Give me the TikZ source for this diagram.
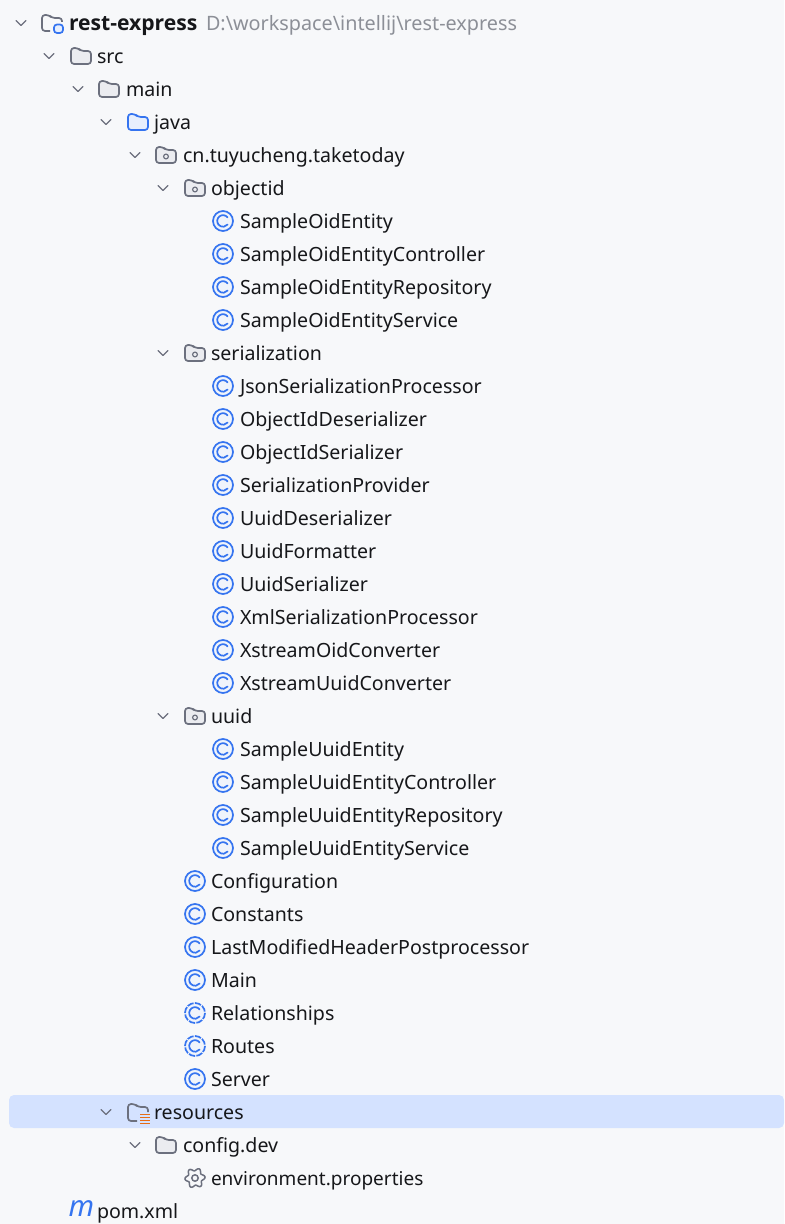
\documentclass[tikz,border=0pt]{standalone}
\usepackage{fontspec}
\setmainfont{Noto Sans}
\newfontfamily\rootfont{Open Sans}
\definecolor{bgc}{HTML}{F7F8FA}
\definecolor{selc}{HTML}{D4E2FF}
\definecolor{txt}{HTML}{16171A}
\definecolor{gry}{HTML}{8C8F97}
\definecolor{fold}{HTML}{6C707E}
\definecolor{foldf}{HTML}{EBECF0}
\definecolor{blu}{HTML}{3574F0}
\definecolor{bluf}{HTML}{E7EFFD}
\definecolor{org}{HTML}{E66D17}
\tikzset{
 x=0.5pt,y=-0.5pt,
 lbl/.style={anchor=base west,inner sep=0,outer sep=0,text=txt,font=\fontsize{9.8}{12}\selectfont},
 chev/.pic={\draw[fold,line width=0.65pt,line cap=round,line join=round] (-5,-2.5)--(0,2.5)--(5,-2.5);},
 foldershape/.pic={\draw[pic actions,line width=0.85pt,line join=round,rounded corners=1.5pt] (-10,-8)--(-3,-8)--(0,-5)--(10,-5)--(10,8)--(-10,8)--cycle;},
 cicon/.pic={\draw[blu,line width=0.85pt,fill=bluf!45!bgc] (0,0) circle (10);
   \draw[blu,line width=0.85pt,line cap=round] (4.6,-3.6) arc (-38:-322:5.8);},
 cdash/.pic={\draw[blu,line width=0.85pt,fill=bluf!45!bgc,dash pattern=on 3.2pt off 0.7pt] (0,0) circle (10);
   \draw[blu,line width=0.85pt,line cap=round] (4.6,-3.6) arc (-38:-322:5.8);},
}
\newcommand{\lab}[4]{\node[lbl] (#3) at (#2,{23+33*#1+7.6}) {#4};}
\newcommand{\chv}[2]{\pic at (#2,{23+33*#1}) {chev};}
\newcommand{\fld}[2]{\pic[draw=fold,fill=foldf] at (#2,{23+33*#1}) {foldershape};}
\newcommand{\pkg}[2]{\pic[draw=fold,fill=foldf] at (#2,{23+33*#1}) {foldershape};
  \draw[fold,line width=0.6pt] (#2,{23+33*#1+1.5}) circle (2.4);}
\newcommand{\cls}[2]{\pic at (#2,{23+33*#1}) {cicon};}
\begin{document}
\begin{tikzpicture}
\useasboundingbox (0,0) rectangle (784,1224);
\fill[bgc] (0,0) rectangle (784,1224);
\fill[selc,rounded corners=2.5pt] (9,1095) rectangle (784,1128);
% root
\chv{0}{21}
\draw[fold,line width=0.85pt,line join=round,rounded corners=1.5pt] (50,31)--(42,31)--(42,15)--(49,15)--(52,18)--(62,18)--(62,22);
\draw[blu,fill=bluf,line width=0.85pt,rounded corners=1.5pt] (54,24.5) rectangle (63,33);
\node[lbl,font=\fontsize{10.55}{12}\selectfont\rootfont\bfseries] (root) at (69,30.6) {rest-express};
\node[lbl,text=gry,font=\fontsize{9.9}{12}\selectfont] (rootpath) at (206,30.6) {D:\textbackslash workspace\textbackslash intellij\textbackslash rest-express};
\chv{1}{49}\fld{1}{81}\lab{1}{97}{src}{src}
\chv{2}{78}\fld{2}{109}\lab{2}{126}{main}{main}
\chv{3}{106}\pic[draw=blu,fill=bluf] at (138,122) {foldershape};\lab{3}{154}{java}{java}
\chv{4}{135}\pkg{4}{166}\lab{4}{183}{cn}{cn.tuyucheng.taketoday}
\chv{5}{163}\pkg{5}{195}\lab{5}{211}{objectid}{objectid}
\foreach \r/\n in {6/SampleOidEntity,7/SampleOidEntityController,8/SampleOidEntityRepository,9/SampleOidEntityService,
 11/JsonSerializationProcessor,12/ObjectIdDeserializer,13/ObjectIdSerializer,14/SerializationProvider,15/UuidDeserializer,16/UuidFormatter,17/UuidSerializer,18/XmlSerializationProcessor,19/XstreamOidConverter,20/XstreamUuidConverter,
 22/SampleUuidEntity,23/SampleUuidEntityController,24/SampleUuidEntityRepository,25/SampleUuidEntityService}{
 \cls{\r}{223}\lab{\r}{240}{\n}{\n}
}
\chv{10}{163}\pkg{10}{195}\lab{10}{211}{serialization}{serialization}
\chv{21}{163}\pkg{21}{195}\lab{21}{211}{uuid}{uuid}
\foreach \r/\n in {26/Configuration,27/Constants,28/LastModifiedHeaderPostprocessor,29/Main,32/Server}{
 \cls{\r}{195}\lab{\r}{211}{\n}{\n}
}
\foreach \r/\n in {30/Relationships,31/Routes}{
 \pic at (195,{23+33*\r}) {cdash};\lab{\r}{211}{\n}{\n}
}
\chv{33}{106}
\draw[fold,line width=0.85pt,line join=round,rounded corners=1.5pt] (137,1121)--(128,1121)--(128,1104)--(135,1104)--(138,1107)--(148,1107)--(148,1112);
\foreach \yy in {1114.5,1117.5,1120.5,1123.5}{\draw[org,line width=0.7pt] (140,\yy)--(150,\yy);}
\lab{33}{154}{resources}{resources}
\chv{34}{135}\fld{34}{166}\lab{34}{183}{configdev}{config.dev}
\draw[fold,line width=0.75pt,line join=round] plot[domain=0:360,samples=61,smooth cycle] ({195+(8.6+1.5*cos(6*\x+30))*cos(\x)},{1178+(8.6+1.5*cos(6*\x+30))*sin(\x)});
\draw[fold,line width=0.75pt] (195,1178) circle (3.2);
\node[lbl,font=\fontsize{9.5}{12}\selectfont] (env) at (211,1185.6) {environment.properties};
\node[inner sep=0,text=blu,font=\fontsize{14.6}{14}\selectfont\itshape] (mico) at (81.5,1209) {m};
\lab{36}{97}{pom}{pom.xml}
\end{tikzpicture}
\end{document}
